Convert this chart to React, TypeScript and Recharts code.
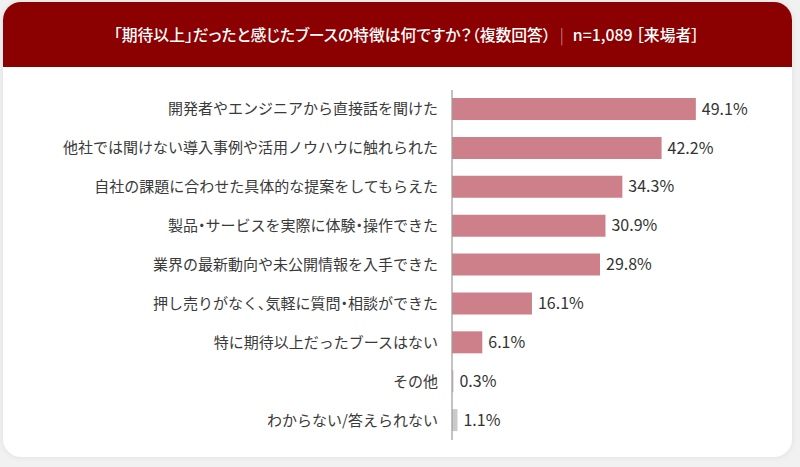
import React from "react";
import { BarChart, Bar, XAxis, YAxis, Cell, LabelList } from "recharts";

// 回答項目（上から表示順）
const categories = [
  "開発者やエンジニアから直接話を聞けた",
  "他社では聞けない導入事例や活用ノウハウに触れられた",
  "自社の課題に合わせた具体的な提案をしてもらえた",
  "製品・サービスを実際に体験・操作できた",
  "業界の最新動向や未公開情報を入手できた",
  "押し売りがなく、気軽に質問・相談ができた",
  "特に期待以上だったブースはない",
  "その他",
  "わからない/答えられない",
];

// 回答率（%）
const shares = [49.1, 42.2, 34.3, 30.9, 29.8, 16.1, 6.1, 0.3, 1.1];

// その他・わからない はグレー
const mutedItems = ["その他", "わからない/答えられない"];

const data = categories.map((name, i) => ({ name, value: shares[i] }));

const FONT = '"Noto Sans CJK JP", "Noto Sans", sans-serif';
const BAR_COLOR = "#cd808a";
const MUTED_COLOR = "#cacaca";
// 約物を詰める
const PALT = { fontFeatureSettings: '"palt"' };

// 読点・中黒だけ詰めて、かなは全角のまま
const CategoryTick = (props: any) => {
  const { x, y, payload } = props;
  const parts = String(payload.value).split(/([、・])/).filter((s) => s !== "");
  return (
    <text
      x={x - 6}
      y={y}
      dy={5}
      textAnchor="end"
      fill="#3a3a3a"
      fontSize={15}
      fontFamily={FONT}
    >
      {parts.map((p, i) =>
        p === "、" || p === "・" ? (
          <tspan key={i} style={PALT}>
            {p}
          </tspan>
        ) : (
          <tspan key={i}>{p}</tspan>
        )
      )}
    </text>
  );
};

const App = () => {
  return (
    <div
      style={{
        position: "absolute",
        left: 0,
        top: 0,
        width: 800,
        height: 467,
        background: "#f1f1f1",
        fontFamily: FONT,
      }}
    >
      <div
        style={{
          position: "absolute",
          left: 3,
          top: 2,
          width: 789,
          height: 455,
          borderRadius: 18,
          overflow: "hidden",
          background: "#ffffff",
          boxShadow: "0 0 6px rgba(0,0,0,0.08)",
        }}
      >
        <div
          style={{
            height: 65,
            paddingLeft: 18,
            background: "#8b0000",
            color: "#ffffff",
            display: "flex",
            alignItems: "center",
            justifyContent: "center",
            fontSize: 15.8,
            fontWeight: 500,
            whiteSpace: "pre",
            ...PALT,
          }}
        >
          <span>「期待以上」だったと感じたブースの特徴は何ですか？（複数回答）</span>
          <span style={{ color: "#d9a0a0", margin: "0 9px", fontWeight: 300 }}>|</span>
          <span>n=1,089 ［来場者］</span>
        </div>
      </div>
      <div style={{ position: "absolute", left: 0, top: 0 }}>
        <BarChart
          width={800}
          height={467}
          data={data}
          layout="vertical"
          margin={{ top: 90, right: 50, bottom: 27, left: 0 }}
          barSize={22}
        >
          <XAxis type="number" domain={[0, 60]} hide />
          <YAxis
            type="category"
            dataKey="name"
            width={452}
            axisLine={{ stroke: "#9a9a9a", strokeWidth: 1.2 }}
            tickLine={false}
            tick={<CategoryTick />}
            interval={0}
          />
          <Bar dataKey="value" isAnimationActive={false}>
            {data.map((d) => (
              <Cell
                key={d.name}
                fill={mutedItems.includes(d.name) ? MUTED_COLOR : BAR_COLOR}
              />
            ))}
            <LabelList
              dataKey="value"
              position="right"
              offset={6}
              formatter={(v: any) => `${v}%`}
              fill="#333333"
              fontSize={16}
              fontFamily={FONT}
            />
          </Bar>
        </BarChart>
      </div>
    </div>
  );
};

export default App;
